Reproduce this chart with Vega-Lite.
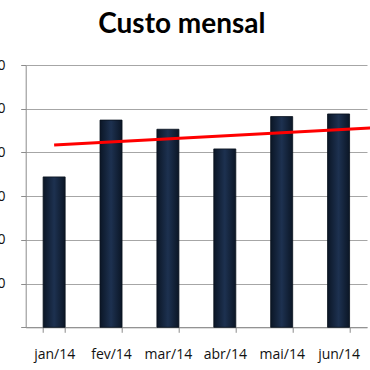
{
  "$schema": "https://vega.github.io/schema/vega-lite/v6.json",
  "autosize": {"type": "none"},
  "padding": {"left": 25.7, "top": 65, "right": 0, "bottom": 42.7},
  "width": 344.3,
  "height": 262.3,
  "background": "white",
  "title": {
    "text": "Custo mensal",
    "font": "Lato",
    "fontSize": 28,
    "fontWeight": "bold",
    "color": "#000000",
    "anchor": "middle",
    "dx": -16,
    "offset": 19
  },
  "config": {
    "view": {"stroke": null},
    "axis": {"labelFont": "Open Sans", "labelColor": "#111111"}
  },
  "datasets": {
    "custo": [
      {"mes": "jan/14", "valor": 344},
      {"mes": "fev/14", "valor": 474},
      {"mes": "mar/14", "valor": 453},
      {"mes": "abr/14", "valor": 408},
      {"mes": "mai/14", "valor": 482},
      {"mes": "jun/14", "valor": 488}
    ],
    "tendencia": [
      {"pos": 1, "valor": 417},
      {"pos": 7, "valor": 459}
    ]
  },
  "resolve": {"scale": {"x": "independent"}, "axis": {"x": "independent"}},
  "layer": [
    {
      "data": {"name": "custo"},
      "mark": {
        "type": "bar",
        "color": {
          "gradient": "linear",
          "x1": 0, "x2": 1, "y1": 0, "y2": 0,
          "stops": [
            {"offset": 0, "color": "#0b1626"},
            {"offset": 0.5, "color": "#1d3150"},
            {"offset": 1, "color": "#0b1626"}
          ]
        },
        "stroke": "#08101c",
        "strokeWidth": 0.8
      },
      "encoding": {
        "x": {
          "field": "mes",
          "type": "nominal",
          "sort": null,
          "title": null,
          "scale": {"range": [0, 341.3], "paddingInner": 0.613, "paddingOuter": 0.3065},
          "axis": {
            "labelAngle": 0,
            "labelFontSize": 14,
            "labelPadding": 15,
            "tickBand": "extent",
            "tickSize": 5,
            "tickColor": "#8c8c8c",
            "domainColor": "#8c8c8c",
            "grid": false
          }
        },
        "y": {
          "field": "valor",
          "type": "quantitative",
          "title": null,
          "scale": {"domain": [0, 600], "nice": false},
          "axis": {
            "values": [0, 100, 200, 300, 400, 500, 600],
            "labelExpr": "datum.value == 0 ? '' : datum.label",
            "labelFontSize": 14,
            "labelPadding": 15.7,
            "tickSize": 5,
            "tickColor": "#8c8c8c",
            "domainColor": "#8c8c8c",
            "gridColor": "#a6a6a6",
            "gridWidth": 1
          }
        }
      }
    },
    {
      "data": {"name": "tendencia"},
      "mark": {"type": "line", "color": "#ff0000", "strokeWidth": 3, "clip": true},
      "encoding": {
        "x": {
          "field": "pos",
          "type": "quantitative",
          "scale": {"domain": [0.5, 6.553], "nice": false, "zero": false},
          "axis": null
        },
        "y": {"field": "valor", "type": "quantitative"}
      }
    }
  ]
}
